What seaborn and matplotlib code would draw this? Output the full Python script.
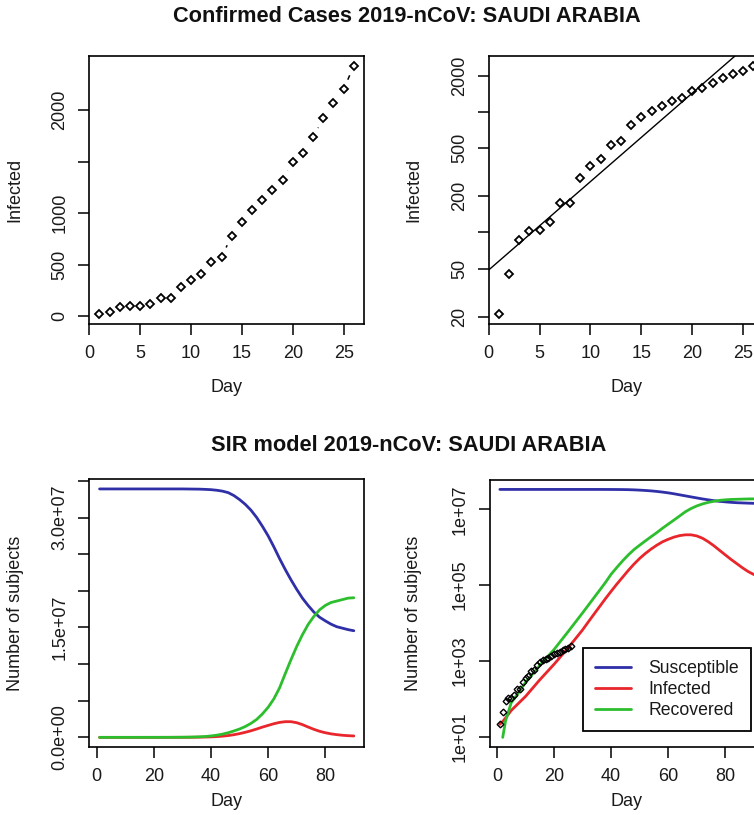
import numpy as np
import pandas as pd
import matplotlib
matplotlib.use("Agg")
import matplotlib.pyplot as plt
from matplotlib.ticker import FixedLocator, FixedFormatter, NullLocator
import seaborn as sns

# ---- observed confirmed cases (Saudi Arabia) ----
obs_day = [1, 2, 3, 4, 5, 6, 7, 8, 9, 10, 11, 12, 13,
           14, 15, 16, 17, 18, 19, 20, 21, 22, 23, 24, 25, 26]
obs_cases = [21, 45, 86, 103, 104, 123, 176, 176, 281, 354, 405, 530, 575,
             780, 910, 1030, 1125, 1225, 1320, 1500, 1580, 1735, 1920, 2070, 2200, 2430]

# ---- SIR model trajectories ----
sir_day = [1, 2, 3, 5, 7, 10, 15, 20, 25, 30,
           32, 34, 36, 38, 40, 42, 44, 46, 48, 50,
           52, 54, 56, 58, 60, 62, 64, 66, 68, 70,
           72, 74, 76, 78, 80, 82, 84, 86, 88, 90]
susceptible = [3.39e7, 3.39e7, 3.39e7, 3.39e7, 3.39e7, 3.39e7, 3.39e7, 3.39e7, 3.39e7, 3.39e7,
               3.389e7, 3.388e7, 3.387e7, 3.384e7, 3.38e7, 3.372e7, 3.36e7, 3.34e7, 3.30e7, 3.245e7,
               3.18e7, 3.10e7, 3.00e7, 2.88e7, 2.75e7, 2.60e7, 2.44e7, 2.29e7, 2.15e7, 2.02e7,
               1.90e7, 1.80e7, 1.71e7, 1.64e7, 1.59e7, 1.545e7, 1.51e7, 1.49e7, 1.47e7, 1.455e7]
infected = [21, 25, 31, 49, 69, 115, 316, 813, 2240, 6610,
            1.07e4, 1.72e4, 2.75e4, 4.4e4, 6.9e4, 1.07e5, 1.62e5, 2.45e5, 3.6e5, 5.1e5,
            6.9e5, 9.0e5, 1.14e6, 1.40e6, 1.63e6, 1.86e6, 2.04e6, 2.14e6, 2.14e6, 2.0e6,
            1.74e6, 1.41e6, 1.10e6, 8.32e5, 6.31e5, 4.79e5, 3.72e5, 2.88e5, 2.29e5, 1.91e5]
recovered = [0, 9.5, 26, 79, 126, 269, 759, 2000, 6030, 1.86e4,
             2.95e4, 4.68e4, 7.41e4, 1.18e5, 1.95e5, 2.95e5, 4.37e5, 6.3e5, 8.7e5, 1.14e6,
             1.48e6, 1.91e6, 2.45e6, 3.2e6, 4.1e6, 5.25e6, 6.75e6, 8.7e6, 1.06e7, 1.24e7,
             1.40e7, 1.54e7, 1.65e7, 1.74e7, 1.80e7, 1.84e7, 1.86e7, 1.88e7, 1.90e7, 1.905e7]

series_names = ["Susceptible", "Infected", "Recovered"]
series_colors = ["#2F2FA8", "#E8262B", "#2DBE2D"]

sns.set_theme(style="white")
plt.rcParams["font.family"] = ["Liberation Sans", "DejaVu Sans"]
plt.rcParams["axes.edgecolor"] = "black"
plt.rcParams["axes.linewidth"] = 1.2

W, H = 754, 815
DPI = 100
fig = plt.figure(figsize=(W / DPI, H / DPI), dpi=DPI)

FS = 13
TITLE_FS = 15.7


def add_axes_px(left, right, top, bottom):
    return fig.add_axes([left / W, 1 - bottom / H, (right - left) / W, (bottom - top) / H])


def r_pad(lo, hi, frac=0.04):
    span = hi - lo
    return lo - frac * span, hi + frac * span


def style_axes(ax, xlab_y_px, ylab_x_px, xlabel, ylabel):
    for s in ax.spines.values():
        s.set_visible(True)
        s.set_color("black")
        s.set_linewidth(1.2)
    ax.tick_params(axis="both", which="major", direction="out", length=7.9, width=1.1,
                   color="black", labelsize=FS, labelcolor="#1a1a1a", pad=7,
                   bottom=True, left=True, top=False, right=False)
    ax.tick_params(axis="y", labelrotation=90)
    for lab in ax.get_yticklabels():
        lab.set_va("center")
    ax.set_xlabel(xlabel, fontsize=FS, color="#1a1a1a")
    ax.set_ylabel(ylabel, fontsize=FS, color="#1a1a1a")
    # label positions given in figure pixels, converted to axes coordinates
    bb = ax.get_position()
    ax_left_px, ax_bottom_px = bb.x0 * W, (1 - bb.y0) * H
    ax_w_px, ax_h_px = bb.width * W, bb.height * H
    ax.xaxis.set_label_coords(0.5, (ax_bottom_px - xlab_y_px) / ax_h_px)
    ax.xaxis.label.set_va("center")
    ax.yaxis.set_label_coords((ylab_x_px - ax_left_px) / ax_w_px, 0.5)
    ax.yaxis.label.set_va("center")
    ax.set_facecolor("white")


obs = pd.DataFrame({"Day": obs_day, "Infected": obs_cases})
marker_kw = dict(marker="D", linestyle="none", mfc="none", mec="black", mew=1.3, color="black")

# ---------- top left: linear cases ----------
ax1 = add_axes_px(89.3, 364.0, 55.7, 324.0)
sns.lineplot(data=obs, x="Day", y="Infected", ax=ax1, estimator=None, sort=False,
             ms=4.4, **marker_kw)
ax1.set_xlim(*r_pad(min(obs_day), max(obs_day)))
ax1.set_ylim(*r_pad(min(obs_cases), max(obs_cases)))
ax1.xaxis.set_major_locator(FixedLocator([0, 5, 10, 15, 20, 25]))
ax1.yaxis.set_major_locator(FixedLocator([0, 500, 1000, 1500, 2000]))
ax1.yaxis.set_major_formatter(FixedFormatter(["0", "500", "1000", "", "2000"]))
style_axes(ax1, 388, 15, "Day", "Infected")

# connecting segments between points, with gaps around each marker
gap = 10.5
pts = ax1.transData.transform(np.column_stack([obs_day, obs_cases]).astype(float))
inv = ax1.transData.inverted()
for p0, p1 in zip(pts[:-1], pts[1:]):
    d = np.hypot(*(p1 - p0))
    if d > 2 * gap:
        u = (p1 - p0) / d
        seg = inv.transform(np.array([p0 + u * gap, p1 - u * gap]))
        ax1.plot(seg[:, 0], seg[:, 1], color="black", lw=1.1, solid_capstyle="butt")

# ---------- top right: log cases with exponential fit ----------
ax2 = add_axes_px(488.7, 763.5, 55.7, 324.0)
ax2.set_yscale("log")
slope, intercept = np.polyfit(obs_day, np.log(obs_cases), 1)
fit_x = np.array([0.0, 30.0])
fit = pd.DataFrame({"Day": fit_x, "Infected": np.exp(intercept + slope * fit_x)})
sns.lineplot(data=fit, x="Day", y="Infected", ax=ax2, color="black", lw=1.0)
sns.lineplot(data=obs, x="Day", y="Infected", ax=ax2, estimator=None, sort=False,
             ms=4.4, **marker_kw)
ax2.set_xlim(*r_pad(min(obs_day), max(obs_day)))
lo, hi = r_pad(np.log10(min(obs_cases)), np.log10(max(obs_cases)))
ax2.set_ylim(10 ** lo, 10 ** hi)
ax2.xaxis.set_major_locator(FixedLocator([0, 5, 10, 15, 20, 25]))
ax2.yaxis.set_major_locator(FixedLocator([20, 50, 100, 200, 500, 1000, 2000]))
ax2.yaxis.set_major_formatter(FixedFormatter(["20", "50", "", "200", "500", "", "2000"]))
ax2.yaxis.set_minor_locator(NullLocator())
style_axes(ax2, 388, 413.7, "Day", "Infected")

# ---------- SIR frames ----------
sir = pd.DataFrame({"Day": sir_day, "Susceptible": susceptible,
                    "Infected": infected, "Recovered": recovered})
sir_long = sir.melt(id_vars="Day", var_name="Compartment", value_name="Count")
palette = dict(zip(series_names, series_colors))

# bottom left: linear
ax3 = add_axes_px(89.4, 364.0, 479.0, 747.3)
sns.lineplot(data=sir_long, x="Day", y="Count", hue="Compartment", hue_order=series_names,
             palette=palette, ax=ax3, estimator=None, sort=True, lw=2.0, legend=False)
ax3.set_xlim(*r_pad(min(sir_day), max(sir_day)))
ax3.set_ylim(*r_pad(0, max(susceptible)))
ax3.xaxis.set_major_locator(FixedLocator([0, 20, 40, 60, 80]))
ax3.yaxis.set_major_locator(FixedLocator([0, 5e6, 1e7, 1.5e7, 2e7, 2.5e7, 3e7, 3.5e7]))
ax3.yaxis.set_major_formatter(FixedFormatter(["0.0e+00", "", "", "1.5e+07", "", "", "3.0e+07", ""]))
style_axes(ax3, 801.7, 15, "Day", "Number of subjects")

# bottom right: log, with observed cases
ax4 = add_axes_px(489.7, 764.0, 479.5, 747.3)
ax4.set_yscale("log")
sir_log = sir_long.copy()
sir_log.loc[sir_log["Count"] <= 0, "Count"] = np.nan
sns.lineplot(data=sir_log, x="Day", y="Count", hue="Compartment", hue_order=series_names,
             palette=palette, ax=ax4, estimator=None, sort=True, lw=2.0)
sns.lineplot(data=obs, x="Day", y="Infected", ax=ax4, estimator=None, sort=False,
             ms=3.4, legend=False, **{**marker_kw, "mew": 1.0})
ax4.set_xlim(*r_pad(min(sir_day), max(sir_day)))
pos = sir_log["Count"].dropna()
lo, hi = r_pad(np.log10(pos.min()), np.log10(pos.max()))
ax4.set_ylim(10 ** lo, 10 ** hi)
ax4.xaxis.set_major_locator(FixedLocator([0, 20, 40, 60, 80]))
ax4.yaxis.set_major_locator(FixedLocator([1e1, 1e3, 1e5, 1e7]))
ax4.yaxis.set_major_formatter(FixedFormatter(["1e+01", "1e+03", "1e+05", "1e+07"]))
ax4.yaxis.set_minor_locator(NullLocator())
style_axes(ax4, 801.7, 413.7, "Day", "Number of subjects")

handles, labels = ax4.get_legend_handles_labels()
order = [labels.index(n) for n in series_names]
leg = ax4.legend([handles[i] for i in order], [labels[i] for i in order],
                 loc="upper left", bbox_to_anchor=(583 / W, 1 - 648 / H),
                 bbox_transform=fig.transFigure, borderaxespad=0, fontsize=12.7,
                 frameon=True, fancybox=False, edgecolor="black", framealpha=1,
                 handlelength=2.0, handletextpad=1.0, labelspacing=0.22,
                 borderpad=0.7)
leg.get_frame().set_linewidth(1.3)
for t in leg.get_texts():
    t.set_color("#1a1a1a")

# ---------- titles ----------
fig.text(406.7 / W, 1 - 17 / H, "Confirmed Cases 2019-nCoV: SAUDI ARABIA",
         ha="center", va="center", fontsize=TITLE_FS, fontweight="bold", color="#111111")
fig.text(408.3 / W, 1 - 446 / H, "SIR model 2019-nCoV: SAUDI ARABIA",
         ha="center", va="center", fontsize=TITLE_FS, fontweight="bold", color="#111111")

fig.savefig("out.png", dpi=DPI, facecolor="white")
